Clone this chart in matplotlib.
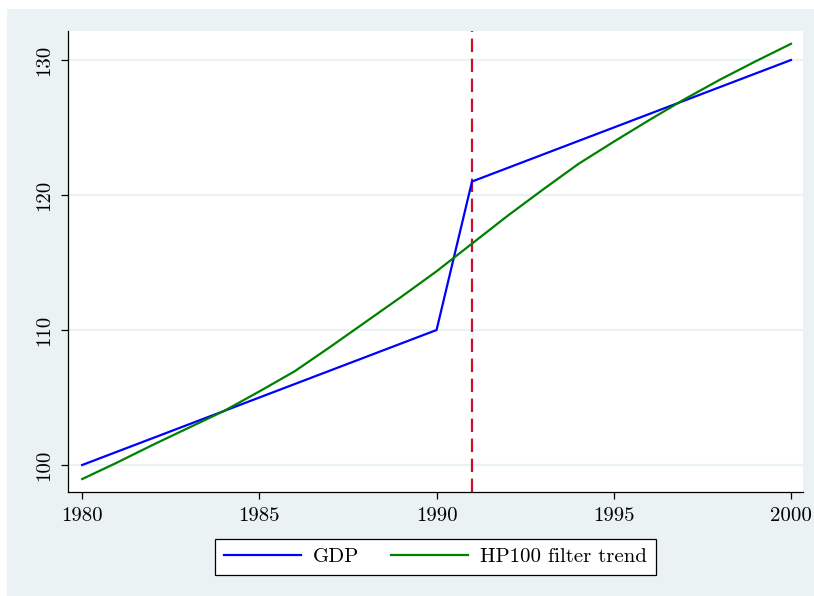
import numpy as np
import matplotlib.pyplot as plt
from matplotlib.patches import Rectangle

years = list(range(1980, 2001))
gdp = [100, 101, 102, 103, 104, 105, 106, 107, 108, 109, 110,
       121, 122, 123, 124, 125, 126, 127, 128, 129, 130]
hp_trend = [98.96, 100.2, 101.5, 102.75, 104.0, 105.45, 106.95, 108.75, 110.6, 112.45, 114.35,
            116.4, 118.45, 120.4, 122.3, 123.95, 125.55, 127.1, 128.55, 129.9, 131.2]
break_year = 1991
x_ticks = [1980, 1985, 1990, 1995, 2000]
y_ticks = [100, 110, 120, 130]

bg_color = '#eaf2f3'

plt.rcParams["font.family"] = ["cmr10", "DejaVu Serif"]
plt.rcParams["axes.formatter.use_mathtext"] = True
plt.rcParams["font.size"] = 15

fig = plt.figure(figsize=(8.14, 5.96), dpi=100, facecolor='white')
fig.patches.append(Rectangle((7 / 814, 0), 1, (596 - 9) / 596, transform=fig.transFigure,
                             facecolor=bg_color, edgecolor='none', zorder=-10))

ax = fig.add_axes([68 / 814, 1 - 492 / 596, (803 - 68) / 814, (492 - 31) / 596])
ax.set_facecolor('white')

for yv in y_ticks:
    ax.axhline(yv, color=bg_color, linewidth=1.6, zorder=0)

ax.plot(years, gdp, color='#0000ff', linewidth=1.6, label='GDP', zorder=3)
ax.plot(years, hp_trend, color='#008000', linewidth=1.6, label='HP100 filter trend', zorder=3)
ax.axvline(break_year, color='#c8102e', linewidth=1.6, linestyle=(0, (6, 3)), zorder=2)

ax.set_xlim(1979.6, 2000.34)
ax.set_ylim(98.0, 132.15)
ax.set_xticks(x_ticks)
ax.set_yticks(y_ticks)
ax.set_xticklabels([str(v) for v in x_ticks])
ax.set_yticklabels([str(v) for v in y_ticks], rotation=90, va='center')

ax.spines['top'].set_visible(False)
ax.spines['right'].set_visible(False)
ax.spines['left'].set_linewidth(0.9)
ax.spines['bottom'].set_linewidth(0.9)
ax.tick_params(axis='both', direction='out', length=5, width=0.9, color='black')
ax.tick_params(axis='x', pad=6)
ax.tick_params(axis='y', pad=6)

leg = ax.legend(loc='center', bbox_to_anchor=(0.535, 0.0654), bbox_transform=fig.transFigure,
                ncol=2, frameon=True, fancybox=False, edgecolor='black', framealpha=1,
                handlelength=3.7, handletextpad=0.6, columnspacing=1.5, borderpad=0.4)
leg.get_frame().set_linewidth(0.9)

plt.savefig('out.png', dpi=100, facecolor=fig.get_facecolor())
plt.close()
